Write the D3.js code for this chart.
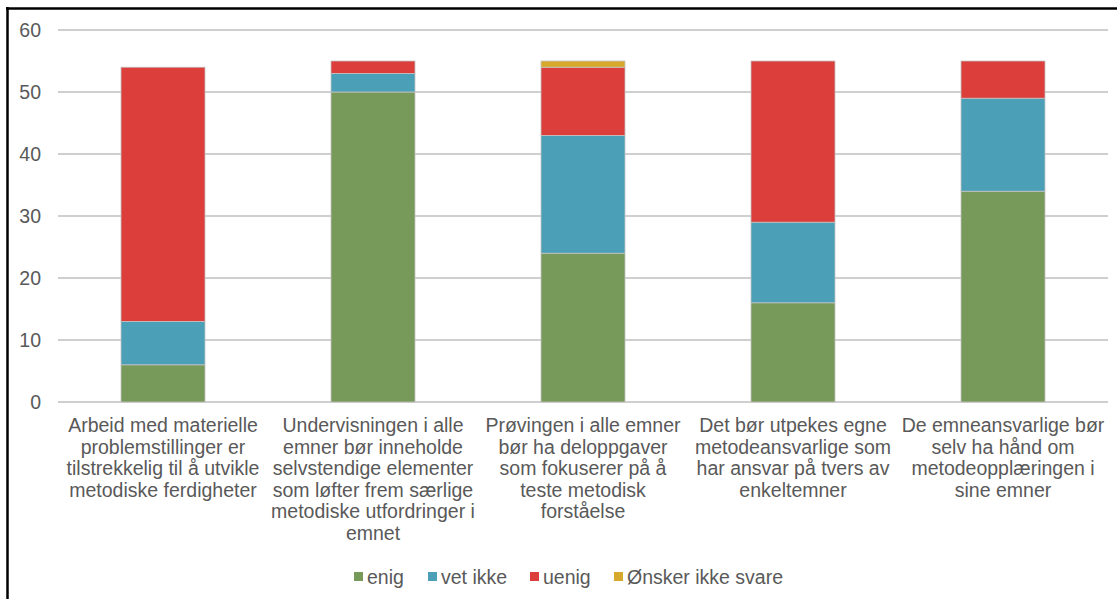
<!DOCTYPE html>
<html><head><meta charset="utf-8">
<script src="https://cdn.jsdelivr.net/npm/d3@7"></script>
<style>
html,body{margin:0;padding:0;background:#fff;}
svg{display:block;font-family:"Liberation Sans",Arial,sans-serif;}
</style></head>
<body>
<svg id="chart" width="1117" height="599"></svg>
<script>
const categories = [
  ["Arbeid med materielle","problemstillinger er","tilstrekkelig til å utvikle","metodiske ferdigheter"],
  ["Undervisningen i alle","emner bør inneholde","selvstendige elementer","som løfter frem særlige","metodiske utfordringer i","emnet"],
  ["Prøvingen i alle emner","bør ha deloppgaver","som fokuserer på å","teste metodisk","forståelse"],
  ["Det bør utpekes egne","metodeansvarlige som","har ansvar på tvers av","enkeltemner"],
  ["De emneansvarlige bør","selv ha hånd om","metodeopplæringen i","sine emner"]
];
const seriesNames = ["enig","vet ikke","uenig","Ønsker ikke svare"];
const enig = [6, 50, 24, 16, 34];
const vetIkke = [7, 3, 19, 13, 15];
const uenig = [41, 2, 11, 26, 6];
const onskerIkkeSvare = [0, 0, 1, 0, 0];
const yTicks = [0, 10, 20, 30, 40, 50, 60];
const colors = ["#77995a", "#4b9fb6", "#db3e3b", "#d6a92d"];

const svg = d3.select("#chart");
const margin = {left: 58, right: 9, top: 30, bottom: 197};
const W = 1117, H = 599;
const FS = 19.5;

// frame
svg.append("line").attr("x1", 7.5).attr("x2", 7.5).attr("y1", 7).attr("y2", H).attr("stroke", "#000").attr("stroke-width", 2.5);
svg.append("line").attr("x1", 6).attr("x2", W).attr("y1", 8.5).attr("y2", 8.5).attr("stroke", "#000").attr("stroke-width", 2.5);

const table = categories.map((c, i) => ({i, enig: enig[i], "vet ikke": vetIkke[i], uenig: uenig[i], "Ønsker ikke svare": onskerIkkeSvare[i]}));
const stack = d3.stack().keys(seriesNames)(table);

const x = d3.scaleBand().domain(d3.range(categories.length)).range([margin.left, W - margin.right]).paddingInner(0.6).paddingOuter(0.3);
const y = d3.scaleLinear().domain([0, 60]).range([H - margin.bottom, margin.top]);

// gridlines
svg.append("g").selectAll("line").data(yTicks).join("line")
  .attr("x1", margin.left).attr("x2", W - margin.right)
  .attr("y1", d => y(d)).attr("y2", d => y(d))
  .attr("stroke", "#bfbfbf").attr("stroke-width", 1.5);

// y labels
svg.append("g").selectAll("text").data(yTicks).join("text")
  .attr("x", 41).attr("y", d => y(d)).attr("dy", "0.35em")
  .attr("text-anchor", "end").attr("fill", "#595959").attr("font-size", FS)
  .text(d => d);

// bars
svg.append("g").selectAll("g").data(stack).join("g")
  .attr("fill", (d, i) => colors[i])
  .selectAll("rect").data(d => d.filter(p => p[1] - p[0] > 0)).join("rect")
  .attr("x", d => x(d.data.i)).attr("width", x.bandwidth())
  .attr("y", d => y(d[1])).attr("height", d => y(d[0]) - y(d[1]))
  .attr("stroke", "#c4c4c4").attr("stroke-width", 0.8);

// category labels
const lab = svg.append("g").selectAll("text").data(categories).join("text")
  .attr("text-anchor", "middle").attr("fill", "#595959").attr("font-size", FS)
  .attr("x", (d, i) => x(i) + x.bandwidth() / 2);
lab.selectAll("tspan").data(d => d).join("tspan")
  .attr("x", function() { return this.parentNode.getAttribute("x"); })
  .attr("y", (d, j) => 432 + j * 21.6)
  .text(d => d);

// legend
const legX = [354, 428, 530, 614];
const leg = svg.append("g").selectAll("g").data(seriesNames).join("g")
  .attr("transform", (d, i) => `translate(${legX[i]},577)`);
leg.append("rect").attr("x", 0).attr("y", -5).attr("width", 9).attr("height", 9).attr("fill", (d, i) => colors[i]);
leg.append("text").attr("x", 13).attr("y", 0).attr("dy", "0.35em").attr("fill", "#595959").attr("font-size", FS).text(d => d);
</script>
</body></html>
